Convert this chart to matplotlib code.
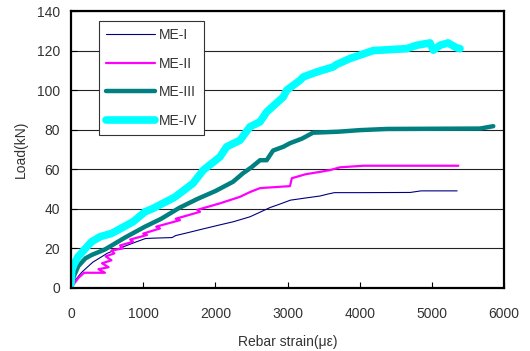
import matplotlib
matplotlib.use("Agg")
import matplotlib.pyplot as plt

plt.rcParams['font.family'] = ['Liberation Sans', 'DejaVu Sans']

# ME-I
strain1 = [0, 60, 150, 300, 500, 700, 910, 1030, 1150, 1400, 1450, 1600, 1800, 2050, 2250, 2480,
           2600, 2760, 2900, 3040, 3250, 3450, 3560, 3650, 4000, 4700, 4850, 5350]
load1 = [0, 4, 8, 13, 17.5, 20.5, 23.4, 25, 25.2, 25.5, 26.5, 27.8, 29.6, 31.8, 33.5, 36,
         38, 40.7, 42.5, 44.4, 45.5, 46.5, 47.5, 48.2, 48.2, 48.3, 49.1, 49.1]

# ME-II
strain2 = [0, 100, 180, 470, 380, 520, 430, 560, 480, 600, 560, 720, 680, 860, 820, 1053, 1000,
           1233, 1180, 1510, 1450, 1787, 1750, 2064, 2342, 2480, 2619, 3034, 3060, 3250, 3450,
           3589, 3727, 4050, 5367]
load2 = [0, 5, 7.7, 7.7, 9.5, 10.5, 12.5, 14, 16, 17.5, 19, 20, 21.5, 23.4, 24.5, 26.8, 27.5,
         30.1, 31, 34.3, 35, 38.5, 39.5, 42.8, 46.1, 48.5, 50.5, 51.5, 55.5, 57.5, 58.7,
         59.6, 61, 61.8, 61.8]

# ME-III
strain3 = [0, 40, 100, 200, 286, 471, 748, 1025, 1250, 1500, 1750, 2000, 2245, 2383, 2500, 2619,
           2711, 2800, 2942, 3034, 3200, 3353, 3700, 4000, 4374, 5667, 5851]
load3 = [0, 6, 11, 15, 16.7, 19.5, 25.5, 31, 35, 40.5, 45, 49, 53.7, 58, 61, 64.6,
         64.6, 69.5, 71.4, 73.2, 75.5, 78.5, 79, 79.8, 80.4, 80.6, 81.8]

# ME-IV
strain4 = [0, 10, 40, 97, 200, 286, 402, 564, 860, 1025, 1136, 1441, 1690, 1833, 2064, 2157,
           2342, 2480, 2619, 2711, 2942, 2988, 3173, 3219, 3404, 3630, 3681, 3866, 4184, 4651,
           4790, 4974, 5020, 5113, 5224, 5344, 5390]
load4 = [2, 9, 12, 15.8, 20, 23.4, 25.9, 27.6, 33.5, 38.5, 40.2, 46, 52.9, 59.6, 66.3, 71.4,
         74.7, 81.5, 84, 89, 96.6, 100, 105, 106.7, 109.2, 111.7, 113, 116, 120, 121,
         122.7, 123.9, 120.2, 122.7, 123.9, 121.4, 121]

labels = ['ME-I', 'ME-II', 'ME-III', 'ME-IV']
colors = ['#000080', '#FF00FF', '#008080', '#00FFFF']
widths = [0.8, 1.6, 3.2, 5.5]

fig = plt.figure(figsize=(5.3, 3.51), dpi=100)
ax = fig.add_axes([0.134, 0.1795, 0.817, 0.789])

series = [(strain1, load1), (strain2, load2), (strain3, load3), (strain4, load4)]
for (x, y), lab, c, w in zip(series, labels, colors, widths):
    ax.plot(x, y, color=c, lw=w, label=lab, solid_capstyle='round', solid_joinstyle='round')

ax.set_xlim(0, 6000)
ax.set_ylim(0, 140)
ax.set_xticks(range(0, 6001, 1000))
ax.set_yticks(range(0, 141, 20))
ax.yaxis.grid(True, color='#222222', lw=0.8)
ax.set_axisbelow(True)
for s in ax.spines.values():
    s.set_linewidth(1.6)
    s.set_color('black')
ax.tick_params(axis='x', direction='in', length=4, pad=14, labelsize=10, labelcolor='#333333')
ax.tick_params(axis='y', direction='in', length=4, pad=8, labelsize=10, labelcolor='#333333')

ax.set_xlabel('Rebar strain(με)', fontsize=10, color='#333333', labelpad=10)
ax.set_ylabel('Load(kN)', fontsize=10, color='#333333', labelpad=6)

leg = ax.legend(loc='upper left', bbox_to_anchor=(0.065, 0.964), borderaxespad=0,
                fontsize=10, handlelength=3.5, handletextpad=0.3, labelspacing=1.05,
                fancybox=False, framealpha=1, edgecolor='#333333', borderpad=0.5)
leg.get_frame().set_linewidth(0.8)
for t in leg.get_texts():
    t.set_color('#333333')

fig.savefig('out.png', dpi=100)
